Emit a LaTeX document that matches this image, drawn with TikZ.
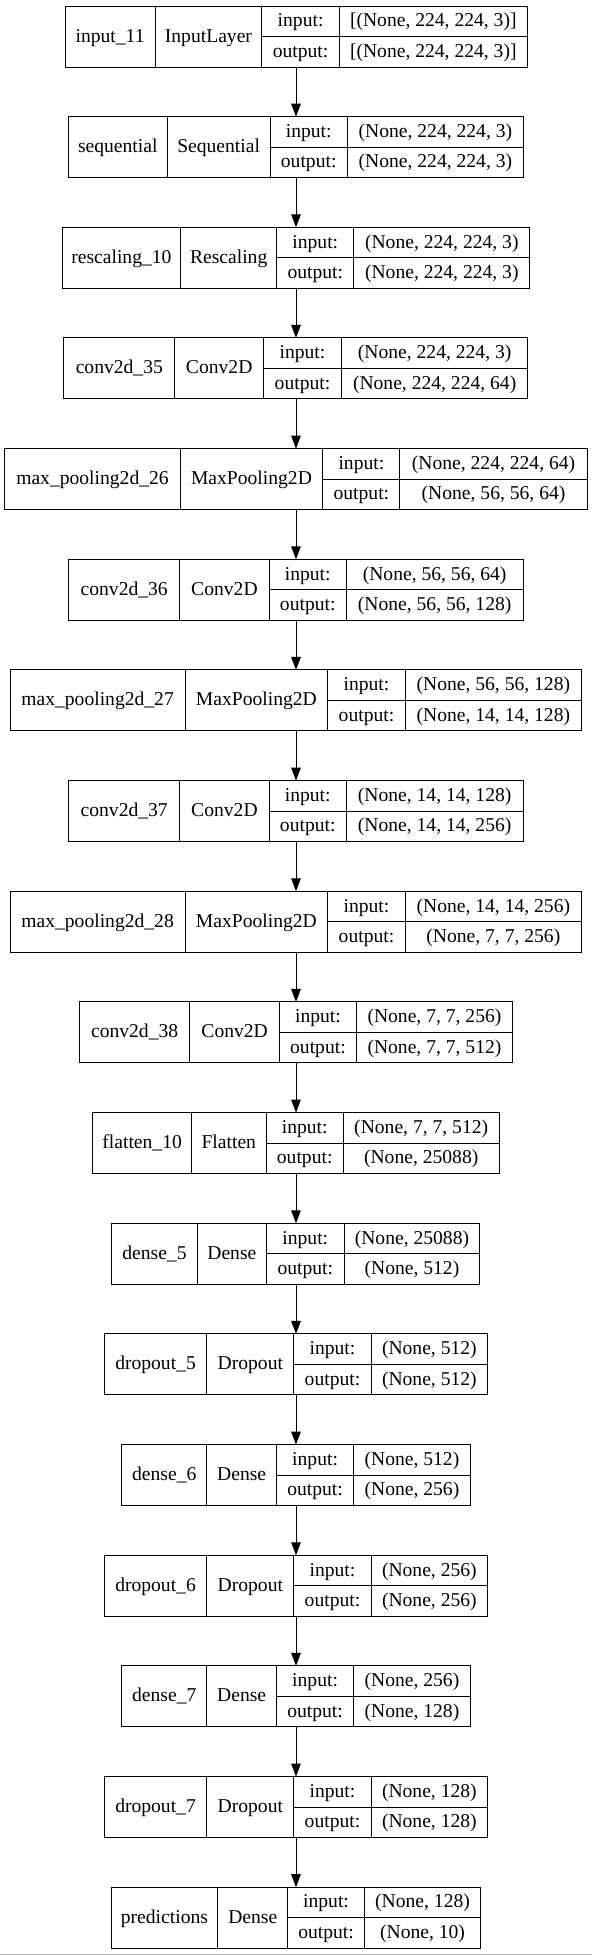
\documentclass[tikz,border=0pt]{standalone}
\usepackage{fontspec}
\setmainfont{Liberation Serif}
\usetikzlibrary{arrows.meta}
\newcounter{lyr}
\newcommand{\lyr}[9]{%
  \stepcounter{lyr}%
  \edef\n{\arabic{lyr}}%
  \pgfmathsetmacro{\yt}{-(6+110.66*(\n-1))}%
  \pgfmathsetmacro{\yb}{\yt-61}%
  \pgfmathsetmacro{\ym}{\yt-30.5}%
  \pgfmathsetmacro{\ybl}{\ym-5.5}%
  \pgfmathsetmacro{\ybu}{\yt-15.25-5.5}%
  \pgfmathsetmacro{\ybd}{\yb+15.25-5.5}%
  \node[lbox, minimum width={(#9-#5)*1pt}] (L\n) at (#5,\yt) {};
  \draw[sepline] (#6,\yt) -- (#6,\yb) (#7,\yt) -- (#7,\yb) (#8,\yt) -- (#8,\yb) (#7,\ym) -- (#9,\ym);
  \node[txt] (L\n-name) at ({(#5+#6)/2},\ybl) {#1};
  \node[txt] (L\n-type) at ({(#6+#7)/2},\ybl) {#2};
  \node[txt] (L\n-inl) at ({(#7+#8)/2},\ybu) {input:};
  \node[txt] (L\n-outl) at ({(#7+#8)/2},\ybd) {output:};
  \node[txt] (L\n-inv) at ({(#8+#9)/2},\ybu) {#3};
  \node[txt] (L\n-outv) at ({(#8+#9)/2},\ybd) {#4};
}
\begin{document}
\begin{tikzpicture}[x=1pt,y=1pt,
  lbox/.style={draw=black, line width=1pt, anchor=north west, minimum height=61pt, inner sep=0pt, outer sep=0pt},
  sepline/.style={draw=black, line width=1pt},
  txt/.style={anchor=base, inner sep=0pt, font=\fontsize{19.6}{23}\selectfont},
  arr/.style={draw=black, line width=1pt, -{Triangle[length=13pt,width=9.5pt]}}]
\fill[white] (0,0) rectangle (592,-1955);
\useasboundingbox (0,0) rectangle (592,-1955);
\coordinate (ax) at (296,0);
\lyr{input\_11}{InputLayer}{[(None, 224, 224, 3)]}{[(None, 224, 224, 3)]}{65.0}{155.2}{261.7}{339.5}{527.1}
\lyr{sequential}{Sequential}{(None, 224, 224, 3)}{(None, 224, 224, 3)}{68.3}{167.3}{270}{347.4}{523.4}
\lyr{rescaling\_10}{Rescaling}{(None, 224, 224, 3)}{(None, 224, 224, 3)}{62.3}{180.5}{276.8}{353.8}{529.8}
\lyr{conv2d\_35}{Conv2D}{(None, 224, 224, 3)}{(None, 224, 224, 64)}{63.8}{174.8}{263.6}{341.4}{527.9}
\lyr{max\_pooling2d\_26}{MaxPooling2D}{(None, 224, 224, 64)}{(None, 56, 56, 64)}{4.9}{180.1}{322.9}{399.9}{587.2}
\lyr{conv2d\_36}{Conv2D}{(None, 56, 56, 64)}{(None, 56, 56, 128)}{68.7}{179.7}{269.2}{346.3}{523}
\lyr{max\_pooling2d\_27}{MaxPooling2D}{(None, 56, 56, 128)}{(None, 14, 14, 128)}{10.2}{185}{327.8}{405.2}{581.5}
\lyr{conv2d\_37}{Conv2D}{(None, 14, 14, 128)}{(None, 14, 14, 256)}{68.7}{179.7}{269.2}{346.3}{523}
\lyr{max\_pooling2d\_28}{MaxPooling2D}{(None, 14, 14, 256)}{(None, 7, 7, 256)}{10.2}{185}{327.8}{405.2}{581.5}
\lyr{conv2d\_38}{Conv2D}{(None, 7, 7, 256)}{(None, 7, 7, 512)}{79.3}{189.9}{279.4}{356.5}{512.4}
\lyr{flatten\_10}{Flatten}{(None, 7, 7, 512)}{(None, 25088)}{92.9}{191.4}{266.2}{343.2}{499.2}
\lyr{dense\_5}{Dense}{(None, 25088)}{(None, 512)}{111.8}{197.1}{266.6}{344}{479.9}
\lyr{dropout\_5}{Dropout}{(None, 512)}{(None, 512)}{104.2}{206.9}{293.8}{371.2}{487.5}
\lyr{dense\_6}{Dense}{(None, 512)}{(None, 256)}{121.6}{206.9}{276.4}{353.8}{470.1}
\lyr{dropout\_6}{Dropout}{(None, 256)}{(None, 256)}{104.2}{206.9}{293.8}{371.2}{487.5}
\lyr{dense\_7}{Dense}{(None, 256)}{(None, 128)}{121.6}{206.9}{276.4}{353.8}{470.1}
\lyr{dropout\_7}{Dropout}{(None, 128)}{(None, 128)}{104.2}{206.9}{293.8}{371.2}{487.5}
\lyr{predictions}{Dense}{(None, 128)}{(None, 10)}{111}{217.9}{287.7}{364.4}{480.7}
\foreach \i [evaluate=\i as \j using int(\i+1)] in {1,...,17}{
  \draw[arr] (L\i.south -| ax) -- (L\j.north -| ax);
}
\draw[gray!60, line width=1pt] (0,-1954.5) -- (592,-1954.5);
\end{tikzpicture}
\end{document}
